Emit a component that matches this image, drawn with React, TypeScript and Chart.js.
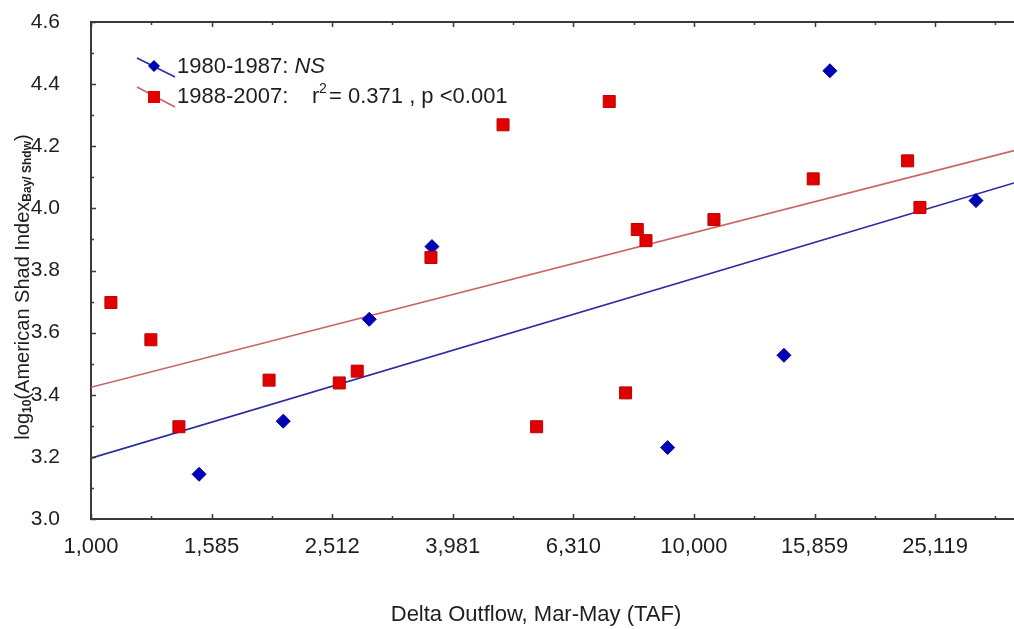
import React, { useEffect, useRef } from 'react';
import { Chart, registerables } from 'chart.js';
Chart.register(...registerables);

// 1988-2007 observations (Delta outflow TAF, log10 shad index)
const flowRecent = [1079, 1257, 1399, 1974, 2581, 2764, 3663, 4824, 5484, 7236, 7702, 8054, 8326, 10794, 15768, 22614, 23705];
const indexRecent = [3.697, 3.577, 3.297, 3.447, 3.438, 3.476, 3.842, 4.269, 3.297, 4.344, 3.406, 3.932, 3.896, 3.964, 4.095, 4.153, 4.003];
// 1980-1987 observations
const flowEarly = [1511, 2084, 2894, 3677, 9045, 14102, 16806, 29363];
const indexEarly = [3.144, 3.315, 3.643, 3.877, 3.230, 3.527, 4.443, 4.025];
// fitted lines (end points)
const fitFlow = [1000, 33950];
const fitRecent = [3.424, 4.186];
const fitEarly = [3.196, 4.082];
// axes
const xTickValues = [1000, 1585, 2512, 3981, 6310, 10000, 15849, 25119];
const xTickLabels = ['1,000', '1,585', '2,512', '3,981', '6,310', '10,000', '15,859', '25,119'];
const xMinorValues = [1259, 1995, 3162, 5012, 7943, 12589, 19953, 31623];
const yTickValues = [3.0, 3.2, 3.4, 3.6, 3.8, 4.0, 4.2, 4.4, 4.6];
const yTickLabels = ['3.0', '3.2', '3.4', '3.6', '3.8', '4.0', '4.2', '4.4', '4.6'];
const yMinorValues = [3.1, 3.3, 3.5, 3.7, 3.9, 4.1, 4.3, 4.5];
const legendEarly = '1980-1987:';
const legendEarlyNote = 'NS';
const legendRecent = '1988-2007:';
const legendRecentStat = '= 0.371 , p <0.001';
const xTitle = 'Delta Outflow, Mar-May (TAF)';

const FONT = '"Liberation Sans", Arial, sans-serif';
const TEXT = '#1e1e1e';
const AXIS = '#3a3a3a';
const RED = '#e00000';
const BLUE = '#0000b4';

const decor = {
  id: 'decor',
  afterDraw(chart: any) {
    const ctx = chart.ctx;
    const { left, right, top, bottom } = chart.chartArea;
    const xs = chart.scales.x;
    const ys = chart.scales.y;
    ctx.save();
    // top border
    ctx.strokeStyle = AXIS;
    ctx.lineWidth = 2;
    ctx.beginPath();
    ctx.moveTo(left, top);
    ctx.lineTo(right, top);
    ctx.stroke();
    // tick marks pointing inward
    ctx.lineWidth = 1.5;
    const xt = (v: number, len: number) => {
      const p = Math.round(xs.getPixelForValue(v)) + 0.5;
      ctx.beginPath();
      ctx.moveTo(p, bottom);
      ctx.lineTo(p, bottom - len);
      ctx.moveTo(p, top);
      ctx.lineTo(p, top + len);
      ctx.stroke();
    };
    xTickValues.forEach((v) => xt(v, 5));
    xMinorValues.forEach((v) => xt(v, 3));
    const yt = (v: number, len: number) => {
      const p = Math.round(ys.getPixelForValue(v)) + 0.5;
      ctx.beginPath();
      ctx.moveTo(left, p);
      ctx.lineTo(left + len, p);
      ctx.stroke();
    };
    yTickValues.forEach((v) => yt(v, 5));
    yMinorValues.forEach((v) => yt(v, 3));

    // legend
    ctx.lineWidth = 1.5;
    ctx.strokeStyle = '#2a2aa0';
    ctx.beginPath();
    ctx.moveTo(137, 58);
    ctx.lineTo(175, 77);
    ctx.stroke();
    ctx.fillStyle = BLUE;
    ctx.beginPath();
    ctx.moveTo(154, 60);
    ctx.lineTo(160, 66);
    ctx.lineTo(154, 72);
    ctx.lineTo(148, 66);
    ctx.closePath();
    ctx.fill();
    ctx.strokeStyle = '#c86464';
    ctx.beginPath();
    ctx.moveTo(137, 87);
    ctx.lineTo(175, 107);
    ctx.stroke();
    ctx.fillStyle = RED;
    ctx.fillRect(148, 91, 12, 12);

    ctx.fillStyle = TEXT;
    ctx.textBaseline = 'middle';
    ctx.textAlign = 'left';
    ctx.font = `22px ${FONT}`;
    ctx.fillText(legendEarly, 177, 67);
    const w1 = ctx.measureText(legendEarly + ' ').width;
    ctx.font = `italic 22px ${FONT}`;
    ctx.fillText(legendEarlyNote, 177 + w1, 67);
    ctx.font = `22px ${FONT}`;
    ctx.fillText(legendRecent, 177, 97);
    ctx.fillText('r', 312, 97);
    ctx.font = `14px ${FONT}`;
    ctx.fillText('2', 319, 89);
    ctx.font = `22px ${FONT}`;
    ctx.fillText(legendRecentStat, 329, 97);

    // x title
    ctx.textAlign = 'center';
    ctx.font = `22px ${FONT}`;
    ctx.fillText(xTitle, 536, 615);

    // y title with subscripts
    const parts = [
      { t: 'log', f: `20px ${FONT}`, dy: 0 },
      { t: '10', f: `bold 12px ${FONT}`, dy: 5 },
      { t: '(American Shad Index', f: `20px ${FONT}`, dy: 0 },
      { t: 'Bay/ Shdw', f: `bold 12px ${FONT}`, dy: 5 },
      { t: ')', f: `20px ${FONT}`, dy: 0 },
    ];
    let total = 0;
    const widths = parts.map((p) => {
      ctx.font = p.f;
      const w = ctx.measureText(p.t).width;
      total += w;
      return w;
    });
    ctx.translate(23, 287);
    ctx.rotate(-Math.PI / 2);
    ctx.textAlign = 'left';
    let cx = -total / 2;
    parts.forEach((p, i) => {
      ctx.font = p.f;
      ctx.fillText(p.t, cx, p.dy);
      cx += widths[i];
    });
    ctx.restore();
  },
};

export default function App() {
  const ref = useRef<HTMLCanvasElement>(null);
  useEffect(() => {
    document.body.style.margin = '0';
    const toPts = (xs: number[], ys: number[]) => xs.map((x, i) => ({ x, y: ys[i] }));
    const chart = new Chart(ref.current as HTMLCanvasElement, {
      type: 'scatter',
      data: {
        datasets: [
          {
            label: '1988-2007 fit',
            data: toPts(fitFlow, fitRecent),
            showLine: true,
            borderColor: '#c86464',
            borderWidth: 1.6,
            pointRadius: 0,
            order: 3,
          },
          {
            label: '1980-1987 fit',
            data: toPts(fitFlow, fitEarly),
            showLine: true,
            borderColor: '#2a2aa0',
            borderWidth: 1.6,
            pointRadius: 0,
            order: 3,
          },
          {
            label: '1988-2007',
            data: toPts(flowRecent, indexRecent),
            pointStyle: 'rect',
            pointRadius: 8.5,
            backgroundColor: RED,
            borderColor: '#c00000',
            borderWidth: 1,
            order: 1,
          },
          {
            label: '1980-1987',
            data: toPts(flowEarly, indexEarly),
            pointStyle: 'rectRot',
            pointRadius: 7,
            backgroundColor: BLUE,
            borderColor: BLUE,
            borderWidth: 1,
            order: 1,
          },
        ],
      },
      options: {
        responsive: false,
        animation: false,
        devicePixelRatio: 1,
        layout: { autoPadding: false, padding: { left: 0, right: 0, top: 22, bottom: 0 } },
        plugins: { legend: { display: false }, tooltip: { enabled: false } },
        scales: {
          x: {
            type: 'logarithmic',
            min: 1000,
            max: 33950,
            grid: { display: false },
            border: { display: true, color: AXIS, width: 2 },
            afterBuildTicks: (s: any) => {
              s.ticks = xTickValues.map((v) => ({ value: v }));
            },
            afterFit: (s: any) => {
              s.height = 110;
              s.paddingLeft = 0;
              s.paddingRight = 0;
            },
            ticks: {
              autoSkip: false,
              maxRotation: 0,
              minRotation: 0,
              padding: 7,
              color: TEXT,
              font: { family: FONT, size: 22 },
              callback: (_v: any, i: number) => xTickLabels[i],
            },
          },
          y: {
            type: 'linear',
            min: 3.0,
            max: 4.6,
            grid: { display: false },
            border: { display: true, color: AXIS, width: 2 },
            afterBuildTicks: (s: any) => {
              s.ticks = yTickValues.map((v) => ({ value: v }));
            },
            afterFit: (s: any) => {
              s.width = 91;
              s.paddingTop = 0;
              s.paddingBottom = 0;
            },
            ticks: {
              padding: 23,
              color: TEXT,
              font: { family: FONT, size: 21 },
              callback: (_v: any, i: number) => yTickLabels[i],
            },
          },
        },
      },
      plugins: [decor],
    } as any);
    return () => chart.destroy();
  }, []);
  return (
    <div style={{ width: 1014, height: 629, background: '#fff' }}>
      <canvas ref={ref} width={1014} height={629} style={{ display: 'block' }} />
    </div>
  );
}
